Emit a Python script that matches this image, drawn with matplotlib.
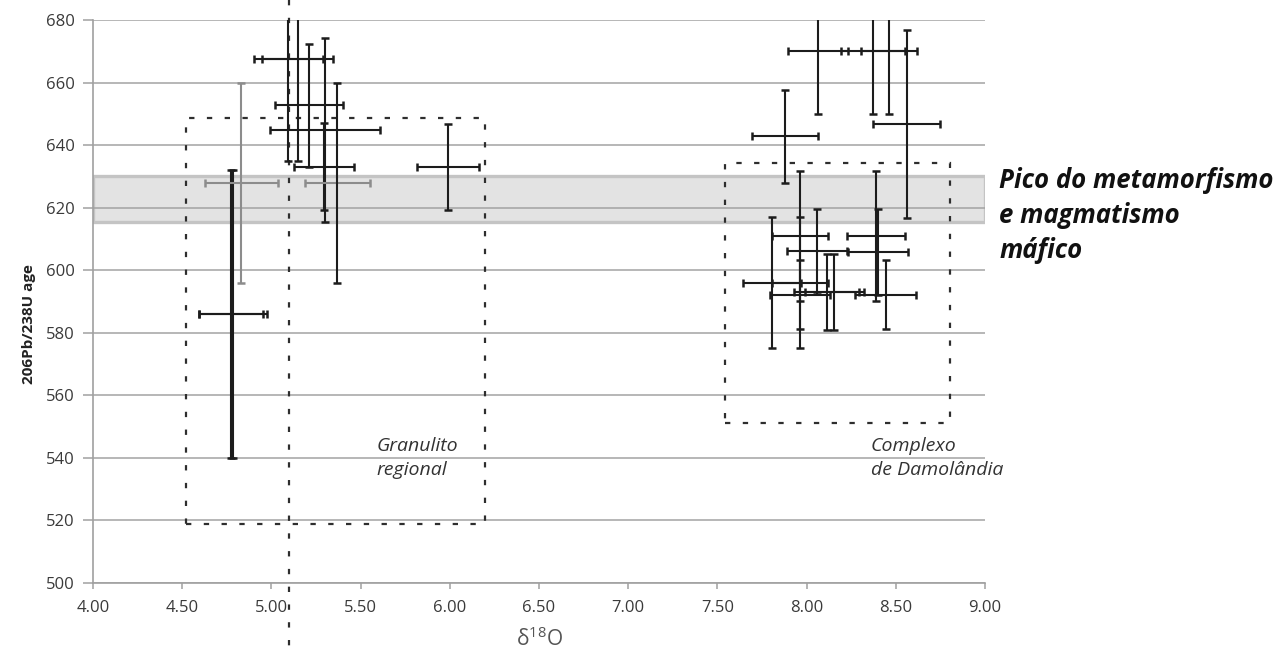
import matplotlib
matplotlib.use("Agg")
import matplotlib.pyplot as plt
from matplotlib.patches import Rectangle

plt.rcParams["font.family"] = ["Open Sans", "DejaVu Sans"]

# --- data -------------------------------------------------------------
# Granulito regional: delta18O, U-Pb age, and their uncertainties
gran_d18o = [4.775, 4.785, 4.83, 5.095, 5.148, 5.21, 5.30, 5.295, 5.37, 5.99]
gran_age = [586, 586, 628, 667.5, 667.5, 652.7, 644.8, 633.1, 628, 633]
gran_d18o_err = [0.18, 0.19, 0.205, 0.193, 0.20, 0.19, 0.31, 0.166, 0.18, 0.175]
gran_age_err = [46, 46, 32, 32.5, 32.5, 19.7, 29.5, 13.9, 32, 13.9]

# Complexo de Damolandia
damo_d18o = [8.066, 8.37, 8.46, 8.56, 7.88, 7.963, 8.056, 8.388, 8.40,
             7.806, 7.963, 7.963, 8.113, 8.155, 8.443]
damo_age = [670, 670, 670, 646.8, 642.8, 611, 606, 611, 605.8,
            596, 596, 592.2, 593, 593, 592.2]
damo_d18o_err = [0.168, 0.179, 0.157, 0.19, 0.184, 0.159, 0.168, 0.163, 0.17,
                 0.163, 0.159, 0.17, 0.182, 0.166, 0.173]
damo_age_err = [20, 20, 20, 30, 14.9, 20.75, 13.5, 20.8, 13.8,
                21, 21, 11, 12.2, 12.2, 11]

# peak metamorphism band (age limits)
peak_band = (615.4, 630.1)

# field outlines: (d18O min, age min, d18O max, age max)
gran_field = (4.52, 518.9, 6.20, 648.6)
damo_field = (7.545, 551.0, 8.805, 634.4)
divider_d18o = 5.10

y_ticks = [500, 520, 540, 560, 580, 600, 620, 640, 660, 680]
x_ticks = [4.0, 4.5, 5.0, 5.5, 6.0, 6.5, 7.0, 7.5, 8.0, 8.5, 9.0]
x_tick_labels = ["4.00", "4.50", "5.00", "5.50", "6.00", "6.50",
                 "7.00", "7.50", "8.00", "8.50", "9.00"]

# --- styling ----------------------------------------------------------
DARK = "#1c1c1c"
GREY = "#8c8c8c"
gran_hcolor = [DARK, DARK, GREY, DARK, DARK, DARK, DARK, DARK, GREY, DARK]
gran_vcolor = [DARK, DARK, GREY, DARK, DARK, DARK, DARK, DARK, DARK, DARK]

fig = plt.figure(figsize=(12.78, 6.51), dpi=100)
ax = fig.add_axes([93 / 1278, 68 / 651, 892 / 1278, 563 / 651])

ax.set_xlim(4.0, 9.0)
ax.set_ylim(500, 680)

# horizontal grid
ax.set_axisbelow(True)
ax.yaxis.grid(True, color="#a3a3a3", linewidth=1.1)
ax.xaxis.grid(False)

# peak band
ax.axhspan(peak_band[0], peak_band[1], facecolor="#e3e3e3",
           edgecolor="#c4c4c4", linewidth=2.4, zorder=0.3)

# error bars
def draw_points(xs, ys, xes, yes, hcols, vcols):
    for x, y, xe, ye, hc, vc in zip(xs, ys, xes, yes, hcols, vcols):
        ax.errorbar(x, y, xerr=xe, fmt="none", ecolor=hc, elinewidth=1.5,
                    capsize=3, capthick=1.8, zorder=3)
        ax.errorbar(x, y, yerr=ye, fmt="none", ecolor=vc, elinewidth=1.5,
                    capsize=3, capthick=1.8, zorder=3)

draw_points(gran_d18o, gran_age, gran_d18o_err, gran_age_err,
            gran_hcolor, gran_vcolor)
draw_points(damo_d18o, damo_age, damo_d18o_err, damo_age_err,
            [DARK] * len(damo_d18o), [DARK] * len(damo_d18o))

# dashed field outlines
dash = (0, (2.4, 5.6))
for x0, y0, x1, y1 in (gran_field, damo_field):
    ax.add_patch(Rectangle((x0, y0), x1 - x0, y1 - y0, fill=False,
                           edgecolor="#2e2e2e", linewidth=1.6,
                           linestyle=dash, zorder=2))
ax.plot([divider_d18o, divider_d18o], [686.5, 479], color="#2e2e2e",
        linewidth=1.6, linestyle=dash, clip_on=False, zorder=2)

# field labels
ax.text(5.59, 540.0, "Granulito\nregional", style="italic", fontsize=14,
        color="#333333", ha="left", va="center", linespacing=1.45)
ax.text(8.36, 540.0, "Complexo\nde Damolândia", style="italic", fontsize=14,
        color="#333333", ha="left", va="center", linespacing=1.45)
ax.text(9.08, 617.5, "Pico do metamorfismo\ne magmatismo\nmáfico",
        style="italic", fontweight="bold", fontsize=18.5, color="#111111",
        ha="left", va="center", linespacing=1.38, clip_on=False)

# axes
for side in ("top", "right"):
    ax.spines[side].set_visible(False)
for side in ("left", "bottom"):
    ax.spines[side].set_color("#a0a0a0")
    ax.spines[side].set_linewidth(1.2)

ax.set_yticks(y_ticks)
ax.set_xticks(x_ticks)
ax.set_xticklabels(x_tick_labels)
ax.tick_params(axis="y", length=7, width=1.1, color="#a0a0a0", pad=6,
               labelsize=12, labelcolor="#3a3a3a")
ax.tick_params(axis="x", length=4.5, width=1.1, color="#a0a0a0", pad=8,
               labelsize=12, labelcolor="#3a3a3a")

ax.set_ylabel("206Pb/238U age", fontsize=11, fontweight="bold", color="#222222")
ax.yaxis.set_label_coords(-0.064, 0.46)
ax.set_xlabel("δ$^{\\mathregular{18}}$O", fontsize=15, color="#555555")
ax.xaxis.set_label_coords(0.5, -0.078)

fig.savefig("out.png", dpi=100)
